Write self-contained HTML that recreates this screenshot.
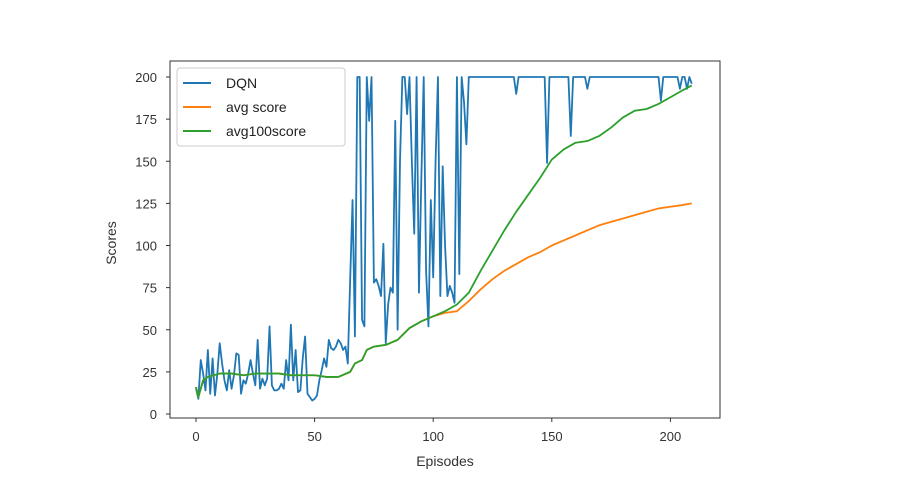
<!DOCTYPE html>
<html><head><meta charset="utf-8"><style>body{margin:0;background:#fff}svg{display:block;font-family:"Liberation Sans","DejaVu Sans",sans-serif}</style></head>
<body>
<svg id="chart" width="897" height="495"></svg>
<script>
const dqn=[15,9,32,24,14,38,12,33,11,24,42,30,20,14,26,15,23,36,35,12,20,18,24,32,24,17,44,15,21,17,21,52,17,14,14,15,18,15,32,20,53,20,38,13,14,33,46,12,10,8,9,11,20,26,33,28,44,39,38,
40,44,42,38,40,30,80,127,46,200,200,56,52,200,174,200,78,80,76,70,101,42,65,75,72,174,50,150,200,200,178,200,150,107,200,72,140,200,85,52,127,81,150,200,70,147,100,70,76,72,66,200,83,200,185,160,200,
200,200,200,200,200,200,200,200,200,200,
200,200,200,200,200,200,200,200,200,190,
200,200,200,200,200,200,200,200,200,200,
200,200,149,200,200,200,200,200,200,200,
200,200,165,200,200,200,200,200,200,193,
200,200,200,200,200,200,200,200,200,200,
200,200,200,200,200,200,200,200,200,200,
200,200,200,200,200,200,200,200,200,200,
186,200,200,200,200,200,200,200,193,200,
200,193,200,196];
const avgEp=[0,1,3,5,10,15,20,25,30,35,40,45,50,55,60,65,67,70,72,75,80,85,90,95,100,105,110,115,120,125,130,135,140,145,150,155,160,165,170,175,180,185,190,195,200,205,209];
const avgScore=[16,10,20,22,24,24,23,24,24,24,23,23,23,22,22,25,30,32,38,40,41,44,51,55,58,60,61,67,74,80,85,89,93,96,100,103,106,109,112,114,116,118,120,122,123,124,125];
const avg100Ep=[0,1,3,5,10,15,20,25,30,35,40,45,50,55,60,65,67,70,72,75,80,85,90,95,100,105,110,115,120,125,130,135,140,145,150,155,160,165,170,175,180,185,190,195,200,205,209];
const avg100=[16,10,20,22,24,24,23,24,24,24,23,23,23,22,22,25,30,32,38,40,41,44,51,55,58,61,65,72,85,97,109,120,130,140,151,157,161,162,165,170,176,180,181,184,188,192,195];
const xTicks=[0,50,100,150,200];
const yTicks=[0,25,50,75,100,125,150,175,200];
const NS="http://www.w3.org/2000/svg",svg=document.getElementById('chart');
const L=170,R=720,T=61,B=418;
const sx=v=>196+v*2.372, sy=v=>414-v*1.685;
function mk(t,a,p){const e=document.createElementNS(NS,t);for(const k in a)e.setAttribute(k,a[k]);(p||svg).appendChild(e);return e;}
xTicks.forEach(v=>{mk('line',{x1:sx(v),x2:sx(v),y1:B,y2:B+4,stroke:'#333'});
const t=mk('text',{x:sx(v),y:B+23,'text-anchor':'middle','font-size':13,fill:'#333'});t.textContent=v;

});
yTicks.forEach(v=>{mk('line',{x1:L-4,x2:L,y1:sy(v),y2:sy(v),stroke:'#333'});
const t=mk('text',{x:L-13,y:sy(v)+5,'text-anchor':'end','font-size':13,fill:'#333'});t.textContent=v;

});
const xl=mk('text',{x:445,y:466,'text-anchor':'middle','font-size':14,fill:'#333'});xl.textContent='Episodes';


const yl=mk('text',{x:0,y:0,'text-anchor':'middle','font-size':14,fill:'#333',transform:'translate(116,243) rotate(-90)'});yl.textContent='Scores';


function line(xs,ys,c,name){const p=mk('polyline',{points:ys.map((v,i)=>sx(xs[i])+','+sy(v)).join(' '),fill:'none',stroke:c,'stroke-width':1.8,'stroke-linejoin':'round'});

}
line(dqn.map((v,i)=>i),dqn,'#1f77b4','dqn-line');
line(avgEp,avgScore,'#ff7f0e','avg-score-line');
line(avg100Ep,avg100,'#2ca02c','avg100score-line');
const frame=mk('rect',{x:L,y:T,width:R-L,height:B-T,fill:'none',stroke:'#333','stroke-width':1});


const lg=mk('g',{});


mk('rect',{x:177,y:68,width:168,height:78,rx:3,fill:'#fff','fill-opacity':0.85,stroke:'#ccc'},lg);
[['DQN','#1f77b4'],['avg score','#ff7f0e'],['avg100score','#2ca02c']].forEach((d,i)=>{const y=83+i*24;
mk('line',{x1:183,x2:211,y1:y,y2:y,stroke:d[1],'stroke-width':2},lg);
const t=mk('text',{x:226,y:y+5,'font-size':14,fill:'#222'},lg);t.textContent=d[0];

});
</script>
</body></html>
